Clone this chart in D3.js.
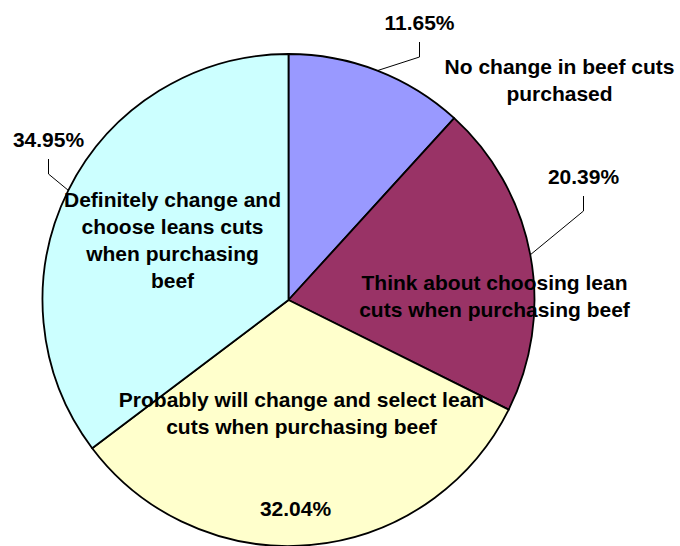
<!DOCTYPE html>
<html>
<head>
<meta charset="utf-8">
<script src="https://cdn.jsdelivr.net/npm/d3@7"></script>
<style>
  html, body { margin: 0; padding: 0; background: #fff; }
  svg { display: block; }
  text { font-family: "Liberation Sans", Arial, sans-serif; font-weight: bold; font-size: 21px; fill: #000; }
</style>
</head>
<body>
<svg id="chart" width="680" height="546"></svg>
<script>
// Survey answers, clockwise from 12 o'clock
const categories = [
  ["No change in beef cuts", "purchased"],
  ["Think about choosing lean", "cuts when purchasing beef"],
  ["Probably will change and select lean", "cuts when purchasing beef"],
  ["Definitely change and", "choose leans cuts", "when purchasing", "beef"]
];
const values = [11.65, 20.39, 32.04, 34.95];
const valueLabels = ["11.65%", "20.39%", "32.04%", "34.95%"];
const colors = ["#9999FF", "#993366", "#FFFFCC", "#CCFFFF"];

// Label placement, relative to the pie centre (px); y is the first baseline
const valueLabelPos = [[131, -270], [295, -116], [7, 216], [-240, -153]];
const categoryLabelPos = [[271, -226], [206, -10], [13, 107], [-116, -93]];
const hasLeader = [true, true, false, true];

const cx = 288.5, cy = 300, R = 246, lineH = 27;

const svg = d3.select("#chart");
const g = svg.append("g").attr("transform", `translate(${cx},${cy})`);

const pie = d3.pie().sort(null).value(d => d);
const arcs = pie(values);
const arc = d3.arc().innerRadius(0).outerRadius(R);
const rim = d3.arc().innerRadius(R).outerRadius(R);

g.selectAll("path.slice")
  .data(arcs)
  .join("path")
  .attr("class", "slice")
  .attr("d", arc)
  .attr("fill", (d, i) => colors[i])
  .attr("stroke", "#000")
  .attr("stroke-width", 1.8)
  .attr("stroke-linejoin", "round");

// Leader lines: from the rim at the slice's mid-angle, to an elbow, then up to the label
g.selectAll("path.leader")
  .data(arcs.filter((d, i) => hasLeader[i]))
  .join("path")
  .attr("class", "leader")
  .attr("fill", "none")
  .attr("stroke", "#000")
  .attr("stroke-width", 1)
  .attr("d", d => {
    const i = d.index;
    const [sx, sy] = rim.centroid(d);
    const [lx, ly] = valueLabelPos[i];
    return d3.line()([[sx, sy], [lx, ly + 27], [lx, ly + 12]]);
  });

// Percentage labels
g.selectAll("text.value")
  .data(arcs)
  .join("text")
  .attr("class", "value")
  .attr("text-anchor", "middle")
  .attr("x", d => valueLabelPos[d.index][0])
  .attr("y", d => valueLabelPos[d.index][1])
  .text(d => valueLabels[d.index]);

// Category labels, multi-line and centred
const cat = g.selectAll("text.cat")
  .data(arcs)
  .join("text")
  .attr("class", "cat")
  .attr("text-anchor", "middle")
  .attr("transform", d => `translate(${categoryLabelPos[d.index][0]},${categoryLabelPos[d.index][1]})`);

cat.selectAll("tspan")
  .data(d => categories[d.index])
  .join("tspan")
  .attr("x", 0)
  .attr("y", (t, j) => j * lineH)
  .text(t => t);
</script>
</body>
</html>
